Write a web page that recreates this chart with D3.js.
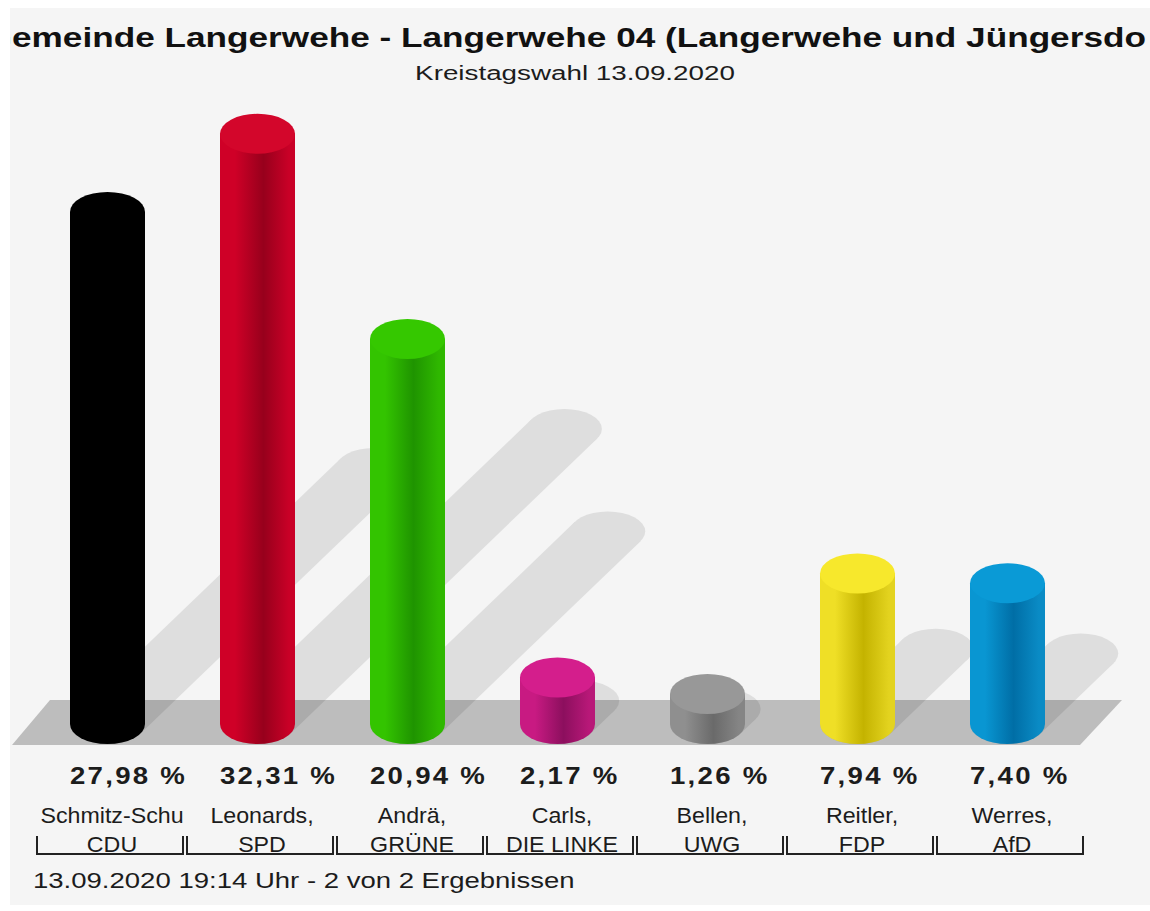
<!DOCTYPE html>
<html><head><meta charset="utf-8">
<script src="https://cdn.jsdelivr.net/npm/d3@7"></script>
<style>
html,body{margin:0;padding:0;background:#ffffff;}
svg{display:block;}
text{font-family:"Liberation Sans",Arial,Helvetica,sans-serif;}
</style></head>
<body>
<script>
const titleText = "Gemeinde Langerwehe - Langerwehe 04 (Langerwehe und Jüngersdorf)";
const subtitleText = "Kreistagswahl 13.09.2020";
const footerText = "13.09.2020 19:14 Uhr - 2 von 2 Ergebnissen";
const candidates = ["Schmitz-Schu", "Leonards,", "Andrä,", "Carls,", "Bellen,", "Reitler,", "Werres,"];
const parties = ["CDU", "SPD", "GRÜNE", "DIE LINKE", "UWG", "FDP", "AfD"];
const values = [27.98, 32.31, 20.94, 2.17, 1.26, 7.94, 7.40];
const topColors   = ["#000000", "#d3062b", "#35c800", "#d41e8c", "#989898", "#f7e82c", "#0a9ad6"];
const lightColors = ["#000000", "#cf0027", "#33c400", "#c81a82", "#8f8f8f", "#efdf26", "#0996d2"];
const darkColors  = ["#000000", "#97001c", "#1f9400", "#8c0f5e", "#6a6a6a", "#c4b300", "#006ea6"];
const edgeColors  = ["#000000", "#c90027", "#2fb800", "#b81878", "#858585", "#e3d31f", "#0a8bc5"];

const W = 1150, H = 911;
const svg = d3.select("body").append("svg").attr("width", W).attr("height", H);
const defs = svg.append("defs");

// canvas
svg.append("rect").attr("x", 10).attr("y", 8).attr("width", W - 10).attr("height", 897).attr("fill", "#f5f5f5");
defs.append("clipPath").attr("id", "canvasClip").append("rect")
  .attr("x", 10).attr("y", 8).attr("width", 1137).attr("height", 897);

const x = d3.scaleBand().domain(parties).range([32.5, 1082.5]).paddingInner(0.5).paddingOuter(0.25);
const baseY = 724;
const y = d3.scaleLinear().domain([0, 35]).range([baseY - 7.3, baseY - 7.3 - 35 * 18.04]);
const rx = x.bandwidth() / 2, ry = 20;

// floor
const floorTop = 700, floorBot = 745;
svg.append("path")
  .attr("d", `M12,${floorBot} L50,${floorTop} L1122,${floorTop} L1080,${floorBot} Z`)
  .attr("fill", "#bdbdbd");

// shadows
const sh = svg.append("g").attr("opacity", 0.09).attr("fill", "#000");
const tx = rx * rx / Math.sqrt(rx * rx + ry * ry), ty = ry * ry / Math.sqrt(rx * rx + ry * ry);
parties.forEach((p, i) => {
  const cx = x(p) + rx;
  const h = baseY - y(values[i]);
  const dx = 0.52 * h, dy = 0.5 * h;
  sh.append("ellipse").attr("cx", cx).attr("cy", baseY).attr("rx", rx).attr("ry", ry);
  sh.append("ellipse").attr("cx", cx + dx).attr("cy", baseY - dy).attr("rx", rx).attr("ry", ry);
  sh.append("path").attr("d",
    `M${cx - tx},${baseY - ty} L${cx + tx},${baseY + ty} L${cx + tx + dx},${baseY + ty - dy} L${cx - tx + dx},${baseY - ty - dy} Z`);
});

// gradients
parties.forEach((p, i) => {
  const g = defs.append("linearGradient").attr("id", "g" + i).attr("x1", 0).attr("x2", 1).attr("y1", 0).attr("y2", 0);
  g.append("stop").attr("offset", 0).attr("stop-color", lightColors[i]);
  g.append("stop").attr("offset", 0.2).attr("stop-color", lightColors[i]);
  g.append("stop").attr("offset", 0.58).attr("stop-color", darkColors[i]);
  g.append("stop").attr("offset", 0.92).attr("stop-color", edgeColors[i]);
  g.append("stop").attr("offset", 1).attr("stop-color", edgeColors[i]);
});

// cylinders
const bars = svg.append("g");
parties.forEach((p, i) => {
  const x0 = x(p), cx = x0 + rx, yt = y(values[i]);
  bars.append("path")
    .attr("d", `M${x0},${yt} L${x0},${baseY} A${rx},${ry} 0 0 0 ${x0 + 2 * rx},${baseY} L${x0 + 2 * rx},${yt} Z`)
    .attr("fill", `url(#g${i})`);
  bars.append("ellipse").attr("cx", cx).attr("cy", yt).attr("rx", rx).attr("ry", ry).attr("fill", topColors[i]);
});

// helper: horizontally stretched text
function stext(parent, str, tx, ty, size, sx, opts = {}) {
  const t = parent.append("text")
    .attr("transform", `translate(${tx},${ty}) scale(${sx},1)`)
    .attr("font-size", size)
    .attr("fill", opts.fill || "#1c1c1c")
    .text(str);
  if (opts.bold) t.attr("font-weight", "bold");
  if (opts.anchor) t.attr("text-anchor", opts.anchor);
  if (opts.ls) t.attr("letter-spacing", opts.ls);
  return t;
}

// value labels
const fmt = v => v.toFixed(2).replace(".", ",") + " %";
const vg = svg.append("g");
values.forEach((v, i) => {
  stext(vg, fmt(v), x(parties[i]), 784, 23, 1.2, { bold: true, ls: 1.9 });
});

// names + brackets
const nm = svg.append("g");
parties.forEach((p, i) => {
  const c = x(p) + 42;
  stext(nm, candidates[i], c, 823, 21.5, 1.08, { anchor: "middle" });
  stext(nm, p, c, 852, 21.5, 1.08, { anchor: "middle" });
  const s = x(p) - rx;
  svg.append("path")
    .attr("d", `M${s + 4.5},836 V854 H${s + 150.5} V836`)
    .attr("fill", "none").attr("stroke", "#222").attr("stroke-width", 2);
});

// title (clipped by the canvas, as in the reference)
const tg = svg.append("g").attr("clip-path", "url(#canvasClip)");
{
  const title = stext(tg, titleText, 0, 47, 27, 1, { bold: true, fill: "#111" });
  const node = title.node();
  const gW = node.getSubStringLength(0, 1);
  const visW = node.getSubStringLength(1, 60);
  const sx = 1134 / visW;
  title.attr("transform", `translate(${12 - gW * sx},47) scale(${sx},1)`);
}

// subtitle
{
  const st = stext(svg, subtitleText, 575, 80, 21, 1, { anchor: "middle" });
  const w = st.node().getComputedTextLength();
  st.attr("transform", `translate(575,80) scale(${320 / w},1)`);
}

// footer
{
  const ft = stext(svg, footerText, 33, 888, 22, 1);
  const w = ft.node().getComputedTextLength();
  ft.attr("transform", `translate(33,888) scale(${542 / w},1)`);
}
</script>
</body></html>
